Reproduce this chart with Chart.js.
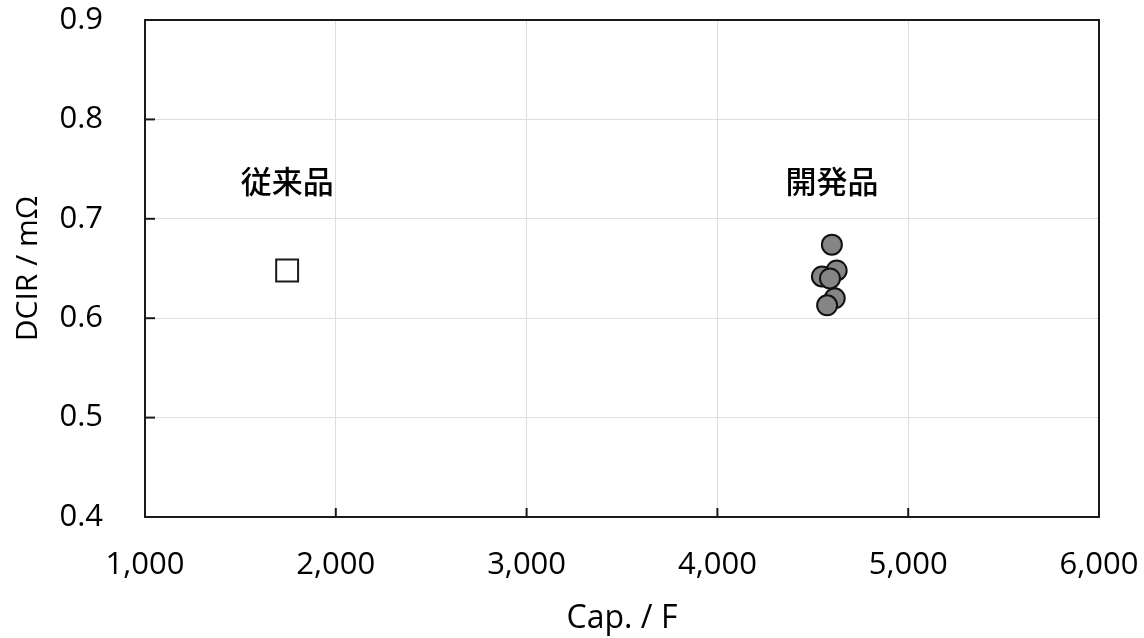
<!DOCTYPE html>
<html lang="ja">
<head>
  <meta charset="UTF-8">
  <title>DCIR vs Cap.</title>
  <script src="https://cdn.jsdelivr.net/npm/chart.js"></script>
  <style>
    html, body { margin: 0; padding: 0; background: #fff; }
    #wrap { width: 1144px; height: 638px; }
  </style>
</head>
<body>
  <div id="wrap"><canvas id="chart" width="1144" height="638"></canvas></div>
  <script>
    // data
    const oldCap = [1745];
    const oldDcir = [0.648];
    const newCap = [4625, 4548, 4615, 4590, 4575, 4600];
    const newDcir = [0.648, 0.642, 0.620, 0.640, 0.613, 0.674];
    const groupNames = ['従来品', '開発品'];
    const groupNameX = [1745, 4600];
    const groupNameY = [0.738, 0.738];

    const FONT = '"Open Sans", "Noto Sans", sans-serif';

    // frame box, inward tick marks and the group names
    const decor = {
      id: 'decor',
      beforeDatasetsDraw(chart) {
        const { ctx, chartArea: a, scales: { x, y } } = chart;
        ctx.save();
        ctx.strokeStyle = '#1a1a1a';
        ctx.lineWidth = 2;
        x.ticks.forEach(t => {
          const px = x.getPixelForValue(t.value);
          ctx.beginPath(); ctx.moveTo(px, a.bottom); ctx.lineTo(px, a.bottom - 9); ctx.stroke();
        });
        y.ticks.forEach(t => {
          const py = y.getPixelForValue(t.value);
          ctx.beginPath(); ctx.moveTo(a.left, py); ctx.lineTo(a.left + 10, py); ctx.stroke();
        });
        ctx.strokeRect(a.left, a.top, a.right - a.left, a.bottom - a.top);
        ctx.fillStyle = '#000';
        ctx.font = '500 31px "Noto Sans CJK JP", sans-serif';
        ctx.textAlign = 'center';
        ctx.textBaseline = 'middle';
        groupNames.forEach((n, i) => {
          ctx.fillText(n, x.getPixelForValue(groupNameX[i]), y.getPixelForValue(groupNameY[i]));
        });
        ctx.restore();
      }
    };

    new Chart(document.getElementById('chart'), {
      type: 'scatter',
      data: {
        datasets: [
          {
            label: groupNames[0],
            data: oldCap.map((v, i) => ({ x: v, y: oldDcir[i] })),
            pointStyle: 'rect',
            pointRadius: 15.5,
            backgroundColor: '#fff',
            borderColor: '#1a1a1a',
            borderWidth: 2
          },
          {
            label: groupNames[1],
            data: newCap.map((v, i) => ({ x: v, y: newDcir[i] })),
            pointStyle: 'circle',
            pointRadius: 10,
            backgroundColor: '#858585',
            borderColor: '#111',
            borderWidth: 2
          }
        ]
      },
      options: {
        responsive: false,
        animation: false,
        layout: { autoPadding: false, padding: { top: 20, right: 45, left: 0, bottom: 0 } },
        plugins: { legend: { display: false }, tooltip: { enabled: false } },
        scales: {
          x: {
            type: 'linear',
            min: 1000, max: 6000,
            ticks: {
              stepSize: 1000,
              padding: 0,
              color: '#000',
              font: { family: FONT, size: 31 },
              callback: v => v.toLocaleString('en-US')
            },
            grid: { color: '#dedede', lineWidth: 1, drawTicks: true, tickLength: 30, tickColor: 'rgba(0,0,0,0)' },
            border: { display: false },
            title: {
              display: true, text: 'Cap. / F', color: '#000',
              font: { family: FONT, size: 32 },
              padding: { top: 0, bottom: 0 }
            },
            afterFit: s => { s.height = 121; }
          },
          y: {
            min: 0.4, max: 0.9,
            ticks: {
              stepSize: 0.1,
              padding: 0,
              color: '#000',
              font: { family: FONT, size: 31 },
              callback: v => v.toFixed(1)
            },
            grid: { color: '#dedede', lineWidth: 1, drawTicks: true, tickLength: 42, tickColor: 'rgba(0,0,0,0)' },
            border: { display: false },
            title: {
              display: true, text: 'DCIR / mΩ', color: '#000',
              font: { family: FONT, size: 30 },
              padding: { top: 10, bottom: 0 }
            },
            afterFit: s => { s.width = 145; }
          }
        }
      },
      plugins: [decor]
    });
  </script>
</body>
</html>
